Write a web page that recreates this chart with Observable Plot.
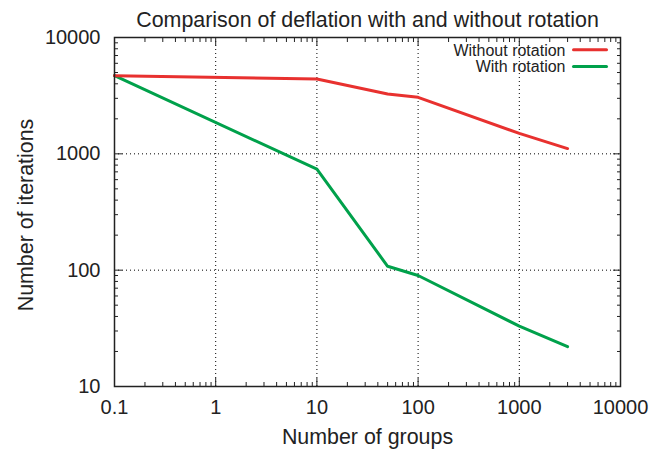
<!DOCTYPE html>
<html>
<head>
<meta charset="utf-8">
<script src="https://cdn.jsdelivr.net/npm/d3@7"></script>
<script src="https://cdn.jsdelivr.net/npm/@observablehq/plot@0.6"></script>
<style>
  html, body { margin: 0; padding: 0; background: #fff; }
</style>
</head>
<body>
<div id="chart"></div>
<script>
const titleText = "Comparison of deflation with and without rotation";
const xLabelText = "Number of groups";
const yLabelText = "Number of iterations";

const groups = [0.1, 10, 50, 100, 1000, 3000];
const withoutRotation = [4700, 4400, 3270, 3060, 1500, 1110];
const withRotation = [4700, 738, 108, 90, 33, 22];

const seriesNames = ["Without rotation", "With rotation"];
const seriesColors = ["#e8312f", "#00a14b"];

const xTicks = [0.1, 1, 10, 100, 1000, 10000];
const xTickLabels = ["0.1", "1", "10", "100", "1000", "10000"];
const yTicks = [10, 100, 1000, 10000];
const yTickLabels = ["10", "100", "1000", "10000"];
const minorMultipliers = [2, 3, 4, 5, 6, 7, 8, 9];

const xMinor = xTicks.slice(0, -1).flatMap(t => minorMultipliers.map(m => t * m));
const yMinor = yTicks.slice(0, -1).flatMap(t => minorMultipliers.map(m => t * m));

const data = [
  ...groups.map((g, i) => ({x: g, y: withoutRotation[i], s: seriesNames[0]})),
  ...groups.map((g, i) => ({x: g, y: withRotation[i], s: seriesNames[1]}))
];

const ink = "#222";
const font = "'Liberation Sans', Arial, Helvetica, sans-serif";
const lineShape = {draw(context, l) { context.moveTo(0, 0); context.lineTo(0, -l); }};

const tickMarks = (anchorX, anchorY) => [
  Plot.axisX(xTicks, {anchor: anchorX, tickSize: -8, fill: "none", label: null, stroke: ink}),
  Plot.axisX(xMinor, {anchor: anchorX, tickSize: -4, fill: "none", label: null, stroke: ink}),
  Plot.axisY(yTicks, {anchor: anchorY, tickSize: -8, fill: "none", label: null, stroke: ink}),
  Plot.axisY(yMinor, {anchor: anchorY, tickSize: -4, fill: "none", label: null, stroke: ink})
];

const chart = Plot.plot({
  width: 652,
  height: 456,
  marginLeft: 114,
  marginRight: 32,
  marginTop: 37,
  marginBottom: 70,
  style: {fontFamily: font, background: "#fff", color: ink},
  x: {type: "log", domain: [0.1, 10000]},
  y: {type: "log", domain: [10, 10000]},
  color: {domain: seriesNames, range: seriesColors},
  marks: [
    Plot.gridX(xTicks.slice(1, -1), {stroke: "#000", strokeOpacity: 1, strokeWidth: 1, strokeDasharray: "1,3"}),
    Plot.gridY(yTicks.slice(1, -1), {stroke: "#000", strokeOpacity: 1, strokeWidth: 1, strokeDasharray: "1,3"}),
    ...tickMarks("bottom", "left"),
    ...tickMarks("top", "right"),
    Plot.axisX(xTicks, {anchor: "bottom", tickSize: 0, tickPadding: 13, fontSize: 20, label: null, fill: ink,
      tickFormat: d => xTickLabels[xTicks.indexOf(d)]}),
    Plot.axisY(yTicks, {anchor: "left", tickSize: 0, tickPadding: 14, fontSize: 20, label: null, fill: ink,
      tickFormat: d => yTickLabels[yTicks.indexOf(d)]}),
    Plot.line(data.filter(d => d.s === seriesNames[1]), {x: "x", y: "y", stroke: "s", strokeWidth: 3}),
    Plot.line(data.filter(d => d.s === seriesNames[0]), {x: "x", y: "y", stroke: "s", strokeWidth: 3}),
    Plot.frame({stroke: ink, strokeWidth: 1.5}),
    Plot.text([titleText], {frameAnchor: "top", textAnchor: "middle", lineAnchor: "middle", dy: -17.7, fontSize: 21.4, fill: ink}),
    Plot.text([xLabelText], {frameAnchor: "bottom", textAnchor: "middle", lineAnchor: "middle", dy: 51, fontSize: 21.4, fill: ink}),
    Plot.text([yLabelText], {frameAnchor: "left", textAnchor: "middle", lineAnchor: "middle", dx: -88.5, dy: 3, rotate: -90, fontSize: 21.4, fill: ink}),
    Plot.text([seriesNames[0]], {frameAnchor: "top-right", textAnchor: "end", lineAnchor: "middle", dx: -55, dy: 12.9, fontSize: 16, fill: ink}),
    Plot.text([seriesNames[1]], {frameAnchor: "top-right", textAnchor: "end", lineAnchor: "middle", dx: -55, dy: 29.6, fontSize: 16, fill: ink}),
    Plot.vector([seriesNames[0]], {frameAnchor: "top-right", dx: -47, dy: 12.3, rotate: 90, length: 33, anchor: "start",
      shape: lineShape, stroke: seriesColors[0], strokeWidth: 3}),
    Plot.vector([seriesNames[1]], {frameAnchor: "top-right", dx: -47, dy: 29, rotate: 90, length: 33, anchor: "start",
      shape: lineShape, stroke: seriesColors[1], strokeWidth: 3})
  ]
});
document.getElementById("chart").appendChild(chart);
</script>
</body>
</html>
